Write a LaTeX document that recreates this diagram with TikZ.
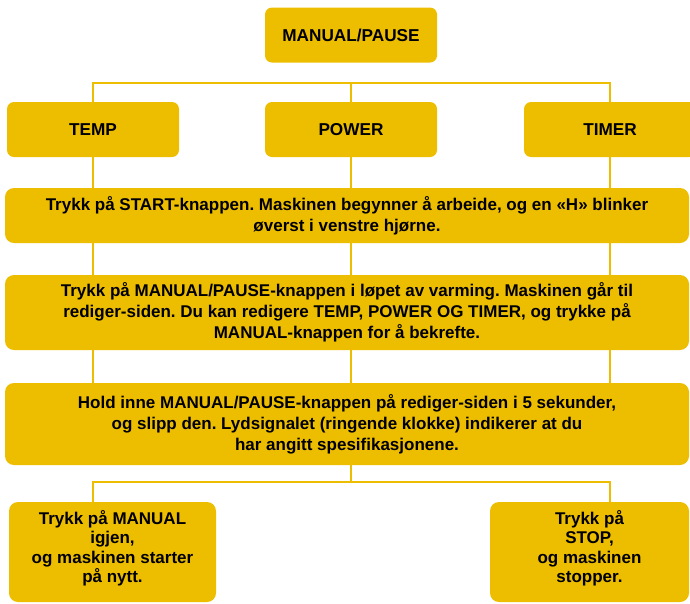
\documentclass[tikz,border=0pt]{standalone}
\usepackage{fontspec}
\setmainfont{Liberation Sans}
\usepackage{tikz}
\usetikzlibrary{calc}
\frenchspacing
\definecolor{panelYellow}{RGB}{237,190,0}
\tikzset{
  headbox/.style={
    rounded corners=7pt,
    fill=panelYellow,
    minimum width=172pt,
    minimum height=55pt,
    inner sep=0pt,
    align=center,
    font=\bfseries\fontsize{17.2}{20}\selectfont
  },
  stepbox/.style={
    rounded corners=9pt,
    fill=panelYellow,
    minimum width=684pt,
    inner sep=0pt,
    align=center,
    font=\bfseries\fontsize{17}{21}\selectfont
  },
  endbox/.style={
    rounded corners=9pt,
    fill=panelYellow,
    minimum height=100pt,
    inner sep=0pt,
    text depth=11pt,
    align=center,
    font=\bfseries\fontsize{17}{19.5}\selectfont
  },
  link/.style={
    draw=panelYellow,
    line width=2.6pt
  }
}

\begin{document}
\begin{tikzpicture}[x=1pt,y=-1pt]
\useasboundingbox (0,0) rectangle (690,603);

\node[headbox] (pause) at (351,35) {MANUAL/PAUSE};

\node[headbox] (temp) at (93,129.5) {TEMP};
\node[headbox] (power) at (351,129.5) {POWER};
\node[headbox] (timer) at (610,129.5) {TIMER};

\node[stepbox, minimum height=55pt] (start) at (347,215.5)
{Trykk på START-knappen. Maskinen begynner å arbeide, og en «H» blinker\\
øverst i venstre hjørne.};
\node[stepbox, minimum height=75pt] (edit) at (347,312.5)
{Trykk på MANUAL/PAUSE-knappen i løpet av varming. Maskinen går til\\
rediger-siden. Du kan redigere TEMP, POWER OG TIMER, og trykke på\\
MANUAL-knappen for å bekrefte.};
\node[stepbox, minimum height=82pt] (hold) at (347,424)
{Hold inne MANUAL/PAUSE-knappen på rediger-siden i 5 sekunder,\\
og slipp den. Lydsignalet (ringende klokke) indikerer at du\\
har angitt spesifikasjonene.};

\node[endbox, minimum width=207pt] (restart) at (112.5,552)
{Trykk på MANUAL\\
igjen,\\
og maskinen starter\\
på nytt.};
\node[endbox, minimum width=199pt] (stopbox) at (589.5,552)
{Trykk på\\
STOP,\\
og maskinen\\
stopper.};

\coordinate (busA) at (351,83);
\coordinate (busB) at (351,482);

\draw[link] (temp.north) |- (busA) -| (timer.north);
\draw[link] (power.north) -- (busA);
\foreach \col in {temp,power,timer} {
  \draw[link] (\col.south) -- (\col.south |- start.north);
  \draw[link] (\col.south |- start.south) -- (\col.south |- edit.north);
  \draw[link] (\col.south |- edit.south) -- (\col.south |- hold.north);
}
\draw[link] (busB |- hold.south) -- (busB);
\draw[link] (restart.north -| temp.south) |- (busB) -| (stopbox.north -| timer.south);

\end{tikzpicture}
\end{document}
